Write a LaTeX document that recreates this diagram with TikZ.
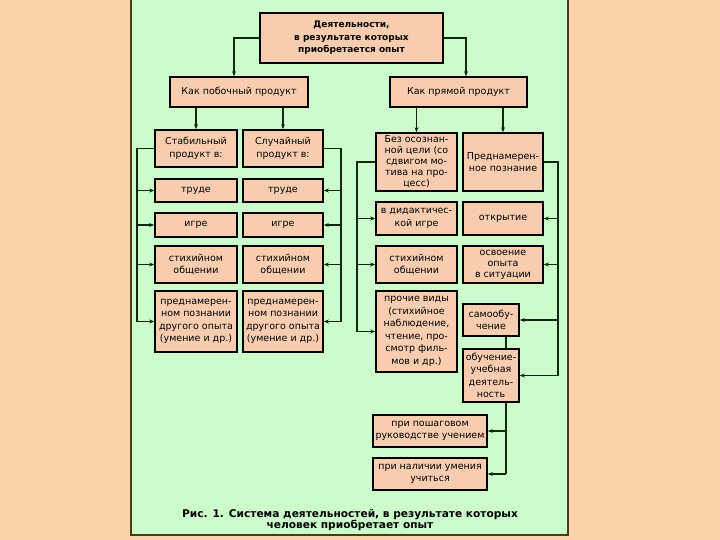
\documentclass[tikz,border=0pt]{standalone}
\usepackage{fontspec}
\setmainfont{DejaVu Sans}
\usetikzlibrary{arrows.meta,calc}
\definecolor{outbg}{HTML}{FBD4AC}
\definecolor{panel}{HTML}{CCFCCC}
\definecolor{panelline}{HTML}{4A3A1A}
\definecolor{boxfill}{HTML}{F8CDAF}
\definecolor{lineclr}{HTML}{102810}
\begin{document}
\begin{tikzpicture}[x=1pt,y=-1pt,
  box/.style={draw=black,line width=1.6pt,fill=boxfill,inner sep=0pt,align=center,
    font=\fontsize{9.5}{12.5}\selectfont},
  tight/.style={font=\fontsize{9.5}{11}\selectfont},
  conn/.style={draw=lineclr,line width=1.1pt},
  arr/.style={conn,-{Stealth[length=5pt,width=4pt]}}]
\useasboundingbox (0,0) rectangle (720,540);
\fill[outbg] (0,0) rectangle (720,540);
\fill[panel] (131,0) rectangle (568,535);
\draw[panelline,line width=1.5pt] (131,0) -- (131,535) -- (568,535) -- (568,0);

% top
\node[box,minimum width=183pt,minimum height=50pt,font=\bfseries\fontsize{9}{12.5}\selectfont] (top) at (351.5,38)
  {Деятельности,\\в результате которых\\приобретается опыт};
\node[box,minimum width=138pt,minimum height=30pt] (bp) at (239,92) {Как побочный продукт};
\node[box,minimum width=137pt,minimum height=30pt] (pp) at (458.5,92) {Как прямой продукт};

% left group
\node[box,minimum width=82pt,minimum height=37pt] (stab) at (196,148.5) {Стабильный\\продукт в:};
\node[box,minimum width=80pt,minimum height=37pt] (slu) at (283,148.5) {Случайный\\продукт в:};
\node[box,minimum width=82pt,minimum height=23pt] (t1) at (196,190.5) {труде};
\node[box,minimum width=80pt,minimum height=23pt] (t2) at (283,190.5) {труде};
\node[box,minimum width=82pt,minimum height=24pt] (i1) at (196,225) {игре};
\node[box,minimum width=80pt,minimum height=24pt] (i2) at (283,225) {игре};
\node[box,minimum width=82pt,minimum height=37pt] (s1) at (196,264.5) {стихийном\\общении};
\node[box,minimum width=80pt,minimum height=37pt] (s2) at (283,264.5) {стихийном\\общении};
\node[box,minimum width=82pt,minimum height=61pt] (p1) at (196,321.5) {преднамерен-\\ном познании\\другого опыта\\(умение и др.)};
\node[box,minimum width=80pt,minimum height=61pt] (p2) at (283,321.5) {преднамерен-\\ном познании\\другого опыта\\(умение и др.)};

% right group
\node[box,tight,minimum width=81pt,minimum height=58pt] (bez) at (416.5,162) {Без осознан-\\ной цели (со\\сдвигом мо-\\тива на про-\\цесс)};
\node[box,minimum width=80pt,minimum height=58pt] (pozn) at (503,162) {Преднамерен-\\ное познание};
\node[box,minimum width=81pt,minimum height=33pt] (did) at (416.5,218.5) {в дидактичес-\\кой игре};
\node[box,minimum width=80pt,minimum height=33pt] (otkr) at (503,218.5) {открытие};
\node[box,minimum width=81pt,minimum height=37pt] (s3) at (416.5,264.5) {стихийном\\общении};
\node[box,tight,minimum width=80pt,minimum height=37pt] (osv) at (503,264.5) {освоение\\опыта\\в ситуации};
\node[box,minimum width=81pt,minimum height=81pt] (proch) at (416.5,331.5) {прочие виды\\(стихийное\\наблюдение,\\чтение, про-\\смотр филь-\\мов и др.)};
\node[box,minimum width=56pt,minimum height=32pt] (samo) at (491,320) {самообу-\\чение};
\node[box,minimum width=56pt,minimum height=53pt] (obuch) at (491,375.5) {обучение-\\учебная\\деятель-\\ность};
\node[box,minimum width=114pt,minimum height=32pt] (posh) at (430,431) {при пошаговом\\руководстве учением};
\node[box,minimum width=114pt,minimum height=32pt] (nal) at (430,474) {при наличии умения\\учиться};

% caption
\node[font=\bfseries\fontsize{10.6}{10.5}\selectfont,align=center] (cap) at (350,520)
  {Рис. 1. Система деятельностей, в результате которых\\человек приобретает опыт};

% connectors top
\draw[arr] (top.west) -| ($(bp.north)+(-5,0)$);
\draw[arr] (top.east) -| ($(pp.north)+(7.5,0)$);
\draw[arr] (stab.north |- bp.south) -- (stab.north);
\draw[arr] (slu.north |- bp.south) -- (slu.north);
\draw[arr] (bez.north |- pp.south) -- (bez.north);
\draw[arr] (pozn.north |- pp.south) -- (pozn.north);

% brackets
\coordinate (lb) at (137,0);
\coordinate (rb) at (341,0);
\coordinate (lc) at (357,0);
\coordinate (rc) at (558,0);
\coordinate (rx) at (506,0);

\draw[conn] (stab.west) -| (lb |- p1.west);
\foreach \n in {t1,i1,s1,p1} \draw[arr] (lb |- \n.west) -- (\n.west);
\draw[conn] (slu.east) -| (rb |- p2.east);
\foreach \n in {t2,i2,s2,p2} \draw[arr] (rb |- \n.east) -- (\n.east);

\draw[conn] (bez.west) -| (lc |- proch.west);
\foreach \n in {did,s3,proch} \draw[arr] (lc |- \n.west) -- (\n.west);
\draw[conn] (pozn.east) -| (rc |- obuch.east);
\foreach \n in {otkr,osv,samo,obuch} \draw[arr] (rc |- \n.east) -- (\n.east);

\draw[conn] (rx |- samo.south) -- (rx |- obuch.north);
\draw[conn] (rx |- obuch.south) -- (rx |- nal.east);
\foreach \n in {posh,nal} \draw[arr] (rx |- \n.east) -- (\n.east);
\end{tikzpicture}
\end{document}
